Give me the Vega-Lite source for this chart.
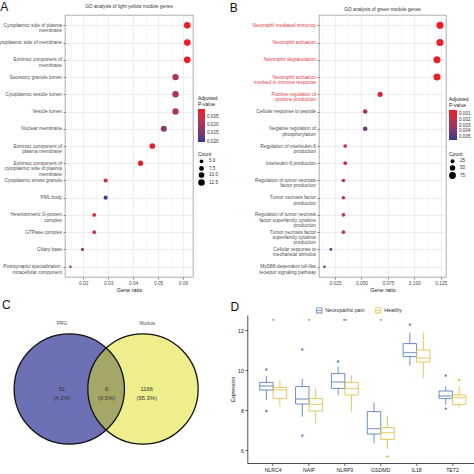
{
  "$schema": "https://vega.github.io/schema/vega-lite/v6.json",
  "autosize": {"type": "none"},
  "padding": {"left": 65, "top": 15, "right": 409, "bottom": 459},
  "background": "white",
  "config": {
    "font": "Liberation Sans",
    "view": {"stroke": null},
    "axis": {"labelFontSize": 4.8, "titleFontSize": 5.5, "labelColor": "#4d4d4d", "titleColor": "#222", "titleFontWeight": "normal", "tickColor": "#333", "tickSize": 2, "tickWidth": 0.6, "labelPadding": 1.5, "titlePadding": 2, "gridWidth": 0.6},
    "legend": {"labelFontSize": 4.6, "titleFontSize": 5, "titleFontWeight": "normal", "labelColor": "#333", "titleColor": "#222"},
    "title": {"fontWeight": "normal", "color": "#222"}
  },
  "resolve": {"scale": {"color": "independent", "size": "independent"}, "legend": {"color": "independent", "size": "independent"}},
  "datasets": {
    "goA": [
      {"term": "Cytoplasmic side of plasma\nmembrane", "ratio": 0.0617, "padj": 0.0008, "count": 13},
      {"term": "Cytoplasmic side of membrane", "ratio": 0.0617, "padj": 0.0008, "count": 13},
      {"term": "Extrinsic component of\nmembrane", "ratio": 0.0617, "padj": 0.0008, "count": 13},
      {"term": "Secretory granule lumen", "ratio": 0.057, "padj": 0.0085, "count": 12},
      {"term": "Cytoplasmic vesicle lumen", "ratio": 0.057, "padj": 0.0085, "count": 12},
      {"term": "Vesicle lumen", "ratio": 0.057, "padj": 0.0085, "count": 12},
      {"term": "Nuclear membrane", "ratio": 0.0523, "padj": 0.0125, "count": 11},
      {"term": "Extrinsic component of\nplasma membrane", "ratio": 0.0477, "padj": 0.0012, "count": 10},
      {"term": "Extrinsic component of\ncytoplasmic side of plasma\nmembrane", "ratio": 0.043, "padj": 0.0015, "count": 9},
      {"term": "Cytoplasmic stress granule", "ratio": 0.029, "padj": 0.0055, "count": 6},
      {"term": "PML body", "ratio": 0.029, "padj": 0.0195, "count": 6},
      {"term": "Heterotrimeric G-protein\ncomplex", "ratio": 0.0244, "padj": 0.004, "count": 5},
      {"term": "GTPase complex", "ratio": 0.0244, "padj": 0.004, "count": 5},
      {"term": "Ciliary base", "ratio": 0.0197, "padj": 0.013, "count": 4},
      {"term": "Postsynaptic specialization,\nintracellular component", "ratio": 0.0149, "padj": 0.013, "count": 3}
    ],
    "goB": [
      {"term": "Neutrophil mediated immunity", "ratio": 0.1243, "padj": 0.0004, "count": 82},
      {"term": "Neutrophil activation", "ratio": 0.1243, "padj": 0.0004, "count": 82},
      {"term": "Neutrophil degranulation", "ratio": 0.1215, "padj": 0.0004, "count": 81},
      {"term": "Neutrophil activation\ninvolved in immune response", "ratio": 0.1215, "padj": 0.0004, "count": 81},
      {"term": "Positive regulation of\ncytokine production", "ratio": 0.0677, "padj": 0.0012, "count": 45},
      {"term": "Cellular response to peptide", "ratio": 0.0535, "padj": 0.0027, "count": 35},
      {"term": "Negative regulation of\nphosphorylation", "ratio": 0.0535, "padj": 0.0042, "count": 35},
      {"term": "Regulation of interleukin-6\nproduction", "ratio": 0.0346, "padj": 0.0016, "count": 23},
      {"term": "Interleukin-6 production", "ratio": 0.0346, "padj": 0.0016, "count": 23},
      {"term": "Regulation of tumor necrosis\nfactor production", "ratio": 0.0329, "padj": 0.0016, "count": 22},
      {"term": "Tumor necrosis factor\nproduction", "ratio": 0.0329, "padj": 0.0016, "count": 22},
      {"term": "Regulation of tumor necrosis\nfactor superfamily cytokine\nproduction", "ratio": 0.0329, "padj": 0.0016, "count": 22},
      {"term": "Tumor necrosis factor\nsuperfamily cytokine\nproduction", "ratio": 0.0329, "padj": 0.0016, "count": 22},
      {"term": "Cellular response to\nmechanical stimulus", "ratio": 0.021, "padj": 0.0051, "count": 14},
      {"term": "MyD88-dependent toll-like\nreceptor signaling pathway", "ratio": 0.015, "padj": 0.0054, "count": 10}
    ],
    "venn": [
      {"set": "PRG", "cx": 0, "cy": 0, "lx": -0.1, "ly": 0.88},
      {"set": "Module", "cx": 1, "cy": 0, "lx": 1.06, "ly": 0.88}
    ],
    "vennRegions": [
      {"region": "PRG only", "label": "51\n(4.2%)", "cx": -0.1, "cy": 0},
      {"region": "Both", "label": "6\n(0.5%)", "cx": 0.505, "cy": 0},
      {"region": "Module only", "label": "1166\n(95.3%)", "cx": 1.05, "cy": 0}
    ],
    "boxes": [
      {"gene": "NLRC4", "group": "Neuropathic pain", "lower": 8.5, "q1": 9.0, "median": 9.2, "q3": 9.38, "upper": 9.7},
      {"gene": "NLRC4", "group": "Healthy", "lower": 8.17, "q1": 8.57, "median": 9.0, "q3": 9.13, "upper": 9.5},
      {"gene": "NAIP", "group": "Neuropathic pain", "lower": 7.67, "q1": 8.3, "median": 8.55, "q3": 9.17, "upper": 9.57},
      {"gene": "NAIP", "group": "Healthy", "lower": 7.33, "q1": 7.95, "median": 8.28, "q3": 8.57, "upper": 9.07},
      {"gene": "NLRP3", "group": "Neuropathic pain", "lower": 8.75, "q1": 9.08, "median": 9.4, "q3": 9.82, "upper": 10.17},
      {"gene": "NLRP3", "group": "Healthy", "lower": 7.92, "q1": 8.75, "median": 9.07, "q3": 9.38, "upper": 9.73},
      {"gene": "GSDMD", "group": "Neuropathic pain", "lower": 6.33, "q1": 6.8, "median": 7.07, "q3": 7.92, "upper": 8.37},
      {"gene": "GSDMD", "group": "Healthy", "lower": 6.05, "q1": 6.53, "median": 6.87, "q3": 7.12, "upper": 7.73},
      {"gene": "IL18", "group": "Neuropathic pain", "lower": 10.22, "q1": 10.67, "median": 10.87, "q3": 11.32, "upper": 11.87},
      {"gene": "IL18", "group": "Healthy", "lower": 9.58, "q1": 10.4, "median": 10.6, "q3": 11.0, "upper": 11.88},
      {"gene": "TET2", "group": "Neuropathic pain", "lower": 8.28, "q1": 8.57, "median": 8.7, "q3": 8.95, "upper": 9.17},
      {"gene": "TET2", "group": "Healthy", "lower": 8.13, "q1": 8.28, "median": 8.62, "q3": 8.75, "upper": 9.2}
    ],
    "outliers": [
      {"gene": "NLRC4", "group": "Neuropathic pain", "value": 10.03},
      {"gene": "NLRC4", "group": "Neuropathic pain", "value": 7.95},
      {"gene": "NAIP", "group": "Neuropathic pain", "value": 11.03},
      {"gene": "NAIP", "group": "Neuropathic pain", "value": 6.72},
      {"gene": "NLRP3", "group": "Neuropathic pain", "value": 10.43},
      {"gene": "GSDMD", "group": "Healthy", "value": 5.67},
      {"gene": "IL18", "group": "Neuropathic pain", "value": 12.27},
      {"gene": "TET2", "group": "Neuropathic pain", "value": 9.72},
      {"gene": "TET2", "group": "Neuropathic pain", "value": 8.07},
      {"gene": "TET2", "group": "Healthy", "value": 9.5}
    ],
    "stars": [
      {"gene": "NLRC4", "label": "*"},
      {"gene": "NAIP", "label": "*"},
      {"gene": "NLRP3", "label": "**"},
      {"gene": "GSDMD", "label": "*"}
    ]
  },
  "vconcat": [
    {
      "resolve": {"scale": {"color": "independent", "size": "independent"}, "legend": {"color": "independent", "size": "independent"}},
      "hconcat": [
        {
          "title": {"text": "A", "anchor": "start", "frame": "bounds", "fontSize": 12, "color": "#111", "offset": -10.5, "dx": 5},
          "resolve": {"scale": {"color": "independent", "size": "independent"}},
          "vconcat": [
            {
              "title": {"text": "GO analysis of light yellow module genes", "fontSize": 4.8, "color": "#333", "offset": 6.5},
              "width": 128,
              "height": 262,
              "view": {"stroke": "#8a8a8a", "strokeWidth": 0.7},
              "data": {"name": "goA"},
              "mark": {"type": "circle", "opacity": 1},
              "encoding": {
                "x": {"field": "ratio", "type": "quantitative",
                  "scale": {"domain": [0.0127, 0.064], "nice": false, "zero": false},
                  "axis": {"title": "Gene ratio", "domain": false,
                    "values": [0.015, 0.02, 0.025, 0.03, 0.035, 0.04, 0.045, 0.05, 0.055, 0.06],
                    "labelExpr": "abs(datum.value*100 - round(datum.value*100)) < 0.001 ? format(datum.value, '.2f') : ''",
                    "grid": true,
                    "gridColor": {"condition": {"test": "abs(datum.value*100 - round(datum.value*100)) < 0.001", "value": "#e3e3e3"}, "value": "#f2f2f2"},
                    "tickOpacity": {"condition": {"test": "abs(datum.value*100 - round(datum.value*100)) < 0.001", "value": 1}, "value": 0}}},
                "y": {"field": "term", "type": "nominal", "sort": null, "scale": {"padding": 0.6},
                  "axis": {"title": null, "domain": false, "grid": true, "gridColor": "#e3e3e3", "labelExpr": "split(datum.label, '\\n')", "labelLineHeight": 5.4, "labelLimit": 0}},
                "color": {"field": "padj", "type": "quantitative",
                  "scale": {"domain": [0.0203, 0.0002], "range": ["#2e3a93", "#ee1c25"], "interpolate": "lab", "nice": false, "zero": false},
                  "legend": {"title": ["Adjusted", "P-value"], "orient": "none", "legendX": 133, "legendY": 81, "direction": "vertical", "values": [0.005, 0.01, 0.015, 0.02], "format": ".3f", "gradientLength": 33, "gradientThickness": 7, "titlePadding": 2, "labelOffset": 2, "titleLineHeight": 6}},
                "size": {"field": "count", "type": "quantitative",
                  "scale": {"domain": [3, 13], "range": [6, 44], "zero": false},
                  "legend": {"title": "Count", "orient": "none", "legendX": 133, "legendY": 137, "direction": "vertical", "values": [5, 7.5, 10, 12.5], "format": ".1f", "symbolFillColor": "#000", "symbolStrokeWidth": 0, "symbolOpacity": 1, "titlePadding": 2, "rowPadding": 1}}
              }
            }
          ]
        },
        {
          "title": {"text": "B", "anchor": "start", "frame": "bounds", "fontSize": 12, "color": "#111", "offset": -8.5, "dx": -22},
          "resolve": {"scale": {"color": "independent", "size": "independent"}},
          "vconcat": [
            {
              "title": {"text": "GO analysis of green module genes", "fontSize": 4.8, "color": "#333", "offset": 3},
              "width": 127,
              "height": 262,
              "view": {"stroke": "#8a8a8a", "strokeWidth": 0.7},
              "data": {"name": "goB"},
              "mark": {"type": "circle", "opacity": 1},
              "encoding": {
                "x": {"field": "ratio", "type": "quantitative",
                  "scale": {"domain": [0.0098, 0.13], "nice": false, "zero": false},
                  "axis": {"title": "Gene ratio", "domain": false,
                    "values": [0.0125, 0.025, 0.0375, 0.05, 0.0625, 0.075, 0.0875, 0.1, 0.1125, 0.125],
                    "labelExpr": "abs(datum.value*40 - round(datum.value*40)) < 0.001 ? format(datum.value, '.3f') : ''",
                    "grid": true,
                    "gridColor": {"condition": {"test": "abs(datum.value*40 - round(datum.value*40)) < 0.001", "value": "#e3e3e3"}, "value": "#f2f2f2"},
                    "tickOpacity": {"condition": {"test": "abs(datum.value*40 - round(datum.value*40)) < 0.001", "value": 1}, "value": 0}}},
                "y": {"field": "term", "type": "nominal", "sort": null, "scale": {"padding": 0.6},
                  "axis": {"title": null, "domain": false, "grid": true, "gridColor": "#e3e3e3", "labelExpr": "split(datum.label, '\\n')", "labelLineHeight": 5.4, "labelLimit": 0,
                    "labelColor": {"condition": {"test": "indexof(datum.value, 'Neutrophil') === 0 || indexof(datum.value, 'Positive') === 0", "value": "#e03a3e"}, "value": "#4d4d4d"}}},
                "color": {"field": "padj", "type": "quantitative",
                  "scale": {"domain": [0.0055, 0.0003], "range": ["#2e3a93", "#ee1c25"], "interpolate": "lab", "nice": false, "zero": false},
                  "legend": {"title": ["Adjusted", "P-value"], "orient": "none", "legendX": 130, "legendY": 82, "direction": "vertical", "values": [0.001, 0.002, 0.003, 0.004, 0.005], "format": ".3f", "gradientLength": 30, "gradientThickness": 8, "titlePadding": 2, "labelOffset": 2, "titleLineHeight": 6}},
                "size": {"field": "count", "type": "quantitative",
                  "scale": {"domain": [10, 82], "range": [6, 50], "zero": false},
                  "legend": {"title": "Count", "orient": "none", "legendX": 130, "legendY": 137, "direction": "vertical", "values": [25, 50, 75], "symbolFillColor": "#000", "symbolStrokeWidth": 0, "symbolOpacity": 1, "titlePadding": 2, "rowPadding": 1}}
              }
            }
          ]
        }
      ],
      "spacing": 9
    },
    {
      "resolve": {"scale": {"color": "independent", "size": "independent"}, "legend": {"color": "independent"}},
      "hconcat": [
        {
          "title": {"text": "C", "anchor": "start", "frame": "group", "fontSize": 12, "color": "#111", "offset": 3, "dx": -63},
          "width": 140,
          "height": 148,
          "layer": [
            {
              "data": {"name": "venn"},
              "mark": {"type": "circle", "size": 12170, "opacity": 1},
              "encoding": {
                "x": {"field": "cx", "type": "quantitative", "scale": {"domain": [-0.0583, 1.8413], "nice": false, "zero": false}, "axis": null},
                "y": {"field": "cy", "type": "quantitative", "scale": {"domain": [-1, 1], "nice": false, "zero": false}, "axis": null},
                "color": {"field": "set", "type": "nominal", "scale": {"domain": ["PRG", "Module"], "range": ["#6c70b5", "#dede1c"]}, "legend": null},
                "fillOpacity": {"condition": {"test": "datum.set === 'Module'", "value": 0.5}, "value": 1}
              }
            },
            {
              "data": {"name": "venn"},
              "mark": {"type": "circle", "size": 12170, "filled": false, "stroke": "#111", "strokeWidth": 1.3, "opacity": 1},
              "encoding": {
                "x": {"field": "cx", "type": "quantitative"},
                "y": {"field": "cy", "type": "quantitative"}
              }
            },
            {
              "data": {"name": "venn"},
              "mark": {"type": "text", "fontSize": 4.8, "color": "#555"},
              "encoding": {
                "x": {"field": "lx", "type": "quantitative"},
                "y": {"field": "ly", "type": "quantitative"},
                "text": {"field": "set"}
              }
            },
            {
              "data": {"name": "vennRegions"},
              "mark": {"type": "text", "fontSize": 5.8, "color": "#333", "lineBreak": "\n", "lineHeight": 9},
              "encoding": {
                "x": {"field": "cx", "type": "quantitative"},
                "y": {"field": "cy", "type": "quantitative"},
                "text": {"field": "label"}
              }
            }
          ]
        },
        {
          "title": {"text": "D", "anchor": "start", "frame": "bounds", "fontSize": 12, "color": "#111", "offset": -6.5},
          "resolve": {"scale": {"color": "independent"}},
          "vconcat": [
            {
              "width": 231,
              "height": 148,
              "encoding": {
                "x": {"field": "gene", "type": "nominal", "sort": ["NLRC4", "NAIP", "NLRP3", "GSDMD", "IL18", "TET2"],
                  "scale": {"paddingInner": 0, "paddingOuter": 0.22},
                  "axis": {"title": null, "labelAngle": 0, "domainColor": "#000", "tickColor": "#000", "labelColor": "#222", "labelFontSize": 5.2, "tickSize": 2.5, "labelPadding": 1.5, "domainWidth": 0.7}},
                "color": {"field": "group", "type": "nominal", "scale": {"domain": ["Neuropathic pain", "Healthy"], "range": ["#5a83be", "#e3c34c"]},
                  "legend": {"title": null, "orient": "none", "legendX": 69, "legendY": -8, "direction": "horizontal",
                    "symbolType": "M-1,-1H1V1H-1Z M-0.72,-0.72V0.72H0.72V-0.72Z M-0.72,-0.13H0.72V0.13H-0.72Z",
                    "symbolSize": 36, "symbolStrokeWidth": 0, "symbolOpacity": 1, "labelFontSize": 5.2, "labelColor": "#333", "columnPadding": 10, "labelOffset": 3}}
              },
              "layer": [
                {
                  "data": {"name": "boxes"},
                  "mark": {"type": "bar", "filled": false, "strokeWidth": 0.9},
                  "encoding": {
                    "xOffset": {"field": "group", "type": "nominal", "sort": ["Neuropathic pain", "Healthy"], "scale": {"paddingInner": 0, "paddingOuter": 0.333}},
                    "y": {"field": "q1", "type": "quantitative", "scale": {"domain": [5.35, 12.75], "nice": false, "zero": false},
                      "axis": {"title": "Expression", "values": [6, 8, 10, 12], "grid": false, "domainColor": "#000", "tickColor": "#000", "labelColor": "#222", "labelFontSize": 5.2, "titleFontSize": 5.2, "tickSize": 2.5, "titlePadding": 2, "domainWidth": 0.7}},
                    "y2": {"field": "q3"}
                  }
                },
                {
                  "data": {"name": "boxes"},
                  "mark": {"type": "rule", "strokeWidth": 0.9},
                  "encoding": {
                    "xOffset": {"field": "group", "type": "nominal", "sort": ["Neuropathic pain", "Healthy"]},
                    "y": {"field": "lower", "type": "quantitative"},
                    "y2": {"field": "q1"}
                  }
                },
                {
                  "data": {"name": "boxes"},
                  "mark": {"type": "rule", "strokeWidth": 0.9},
                  "encoding": {
                    "xOffset": {"field": "group", "type": "nominal", "sort": ["Neuropathic pain", "Healthy"]},
                    "y": {"field": "q3", "type": "quantitative"},
                    "y2": {"field": "upper"}
                  }
                },
                {
                  "data": {"name": "boxes"},
                  "mark": {"type": "tick", "thickness": 1.3, "size": 13.45, "orient": "horizontal"},
                  "encoding": {
                    "xOffset": {"field": "group", "type": "nominal", "sort": ["Neuropathic pain", "Healthy"]},
                    "y": {"field": "median", "type": "quantitative"}
                  }
                },
                {
                  "data": {"name": "outliers"},
                  "mark": {"type": "circle", "size": 6, "opacity": 1},
                  "encoding": {
                    "xOffset": {"field": "group", "type": "nominal", "sort": ["Neuropathic pain", "Healthy"]},
                    "y": {"field": "value", "type": "quantitative"}
                  }
                },
                {
                  "data": {"name": "stars"},
                  "mark": {"type": "text", "fontSize": 5, "baseline": "middle"},
                  "encoding": {
                    "y": {"datum": 12.45},
                    "text": {"field": "label"},
                    "color": {"value": "#333"}
                  }
                }
              ]
            }
          ]
        }
      ],
      "spacing": 25.3
    }
  ],
  "spacing": 5
}
